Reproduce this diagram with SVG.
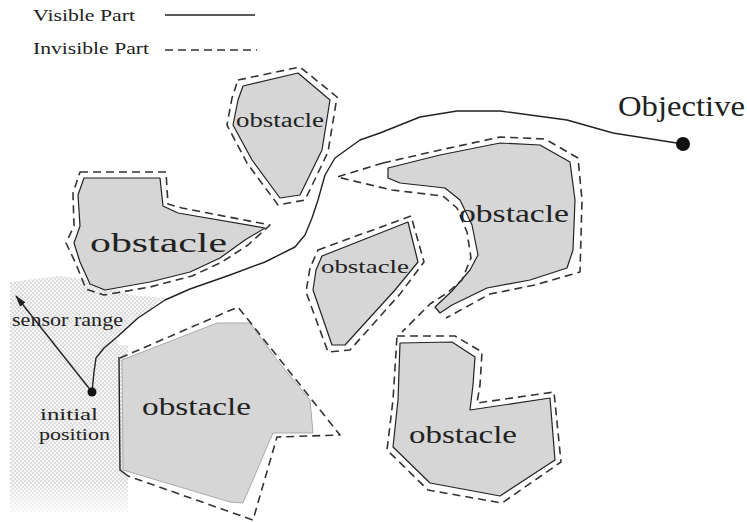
<svg xmlns="http://www.w3.org/2000/svg" width="747" height="522" viewBox="0 0 747 522">
<defs>
<pattern id="stip" width="4" height="4" patternUnits="userSpaceOnUse">
<rect width="4" height="4" fill="#f6f6f6"/>
<circle cx="1" cy="1" r="0.65" fill="#b0b0b0"/>
<circle cx="3" cy="3" r="0.65" fill="#b0b0b0"/>
</pattern>
<linearGradient id="fade" x1="0" y1="0" x2="0" y2="1">
<stop offset="0" stop-color="#fff" stop-opacity="0"/>
<stop offset="1" stop-color="#fff" stop-opacity="0.8"/>
</linearGradient>
<marker id="arr" markerWidth="12" markerHeight="10" refX="11" refY="5" orient="auto" markerUnits="userSpaceOnUse">
<path d="M0,1.5 L12,5 L0,8.5 Z" fill="#222"/>
</marker>
</defs>
<style>
.obs{fill:#d6d6d6;stroke:#222;stroke-width:1.2;stroke-linejoin:round}
.dash{fill:none;stroke:#333;stroke-width:1.6;stroke-dasharray:8 5;stroke-linejoin:round}
.sol{fill:none;stroke:#222;stroke-width:1.4;stroke-linejoin:round}
.lbl{font-family:"Liberation Serif","Times New Roman",serif;fill:#222}
</style>
<rect width="747" height="522" fill="#fff"/>
<g id="sensor-area">
<path d="M10,282 L60,276 L100,282 L130,295 L165,298 L138,318 L117,337 L118,345 L128,345 L128,512 L10,512 Z" fill="url(#stip)"/>
<rect x="10" y="480" width="118" height="34" fill="url(#fade)"/>
</g>
<g id="legend">
<text class="lbl" x="33" y="21" font-size="17" textLength="102" lengthAdjust="spacingAndGlyphs">Visible Part</text>
<text class="lbl" x="33" y="54" font-size="17" textLength="116" lengthAdjust="spacingAndGlyphs">Invisible Part</text>
<line x1="165" y1="15" x2="255" y2="15" class="sol"/>
<line x1="165" y1="50" x2="257" y2="50" class="dash" stroke-dasharray="7 6"/>
</g>
<g id="obstacle1">
<polygon class="obs" points="84,178 160,178 163,206 178,213 265,228 245,240 220,258 190,272 150,282 105,290 90,284 80,262 74,243 80,226 78,195"/>
<polygon class="dash" points="80,172 166,172 168,204 182,208 270,225 248,245 222,262 192,276 150,287 104,295 86,289 76,264 66,243 74,226 73,193"/>
<text class="lbl" x="90" y="252" font-size="28" textLength="137" lengthAdjust="spacingAndGlyphs">obstacle</text>
</g>
<g id="obstacle2">
<polygon class="obs" points="243,86 298,73 330,100 322,150 300,195 280,198 252,160 233,125 238,100"/>
<polygon class="dash" points="238,80 300,67 337,97 328,152 305,200 278,205 247,163 227,125 232,98"/>
<text class="lbl" x="236" y="127" font-size="20" textLength="88" lengthAdjust="spacingAndGlyphs">obstacle</text>
</g>
<g id="obstacle3">
<polygon class="obs" points="322,256 408,222 418,262 395,290 345,345 332,345 313,290 316,270"/>
<polygon class="dash" points="318,250 411,216 424,262 400,294 350,350 328,352 306,292 310,268"/>
<text class="lbl" x="321" y="273" font-size="19" textLength="88" lengthAdjust="spacingAndGlyphs">obstacle</text>
</g>
<g id="obstacle4">
<polygon class="obs" points="388,168 440,155 500,143 540,145 570,162 575,200 573,250 567,268 530,280 487,288 452,305 440,313 435,307 452,291 470,270 478,255 472,225 460,200 445,188 400,183 388,178"/>
<polyline class="dash" points="383,163 337,177 392,190 443,196 457,208 467,232 471,258 462,280 447,293 430,304 402,332"/>
<polyline class="dash" points="383,163 440,150 500,137 545,139 578,158 582,200 580,272 535,285 490,294 446,318"/>
<text class="lbl" x="459" y="222" font-size="26" textLength="110" lengthAdjust="spacingAndGlyphs">obstacle</text>
</g>
<g id="obstacle5">
<polygon points="122,360 217,323 250,323 277,360 310,400 313,433 273,433 267,447 243,503 230,502 123,470" fill="#d6d6d6" stroke="#aaa" stroke-width="1"/>
<polyline class="sol" points="119,357 120,470 128,476"/>
<polyline class="dash" points="120,358 238,307 340,435 277,437 253,520 128,476"/>
<text class="lbl" x="142" y="415" font-size="26" textLength="109" lengthAdjust="spacingAndGlyphs">obstacle</text>
</g>
<g id="obstacle6">
<polygon class="obs" points="400,343 452,342 475,357 473,385 470,410 550,398 555,460 500,496 430,483 393,447 398,400"/>
<polygon class="dash" points="397,336 455,336 482,352 480,385 477,403 554,392 561,462 502,503 428,490 387,450 393,400"/>
<text class="lbl" x="409" y="443" font-size="26" textLength="108" lengthAdjust="spacingAndGlyphs">obstacle</text>
</g>
<g id="connectors">
<path class="sol" d="M92,392 L94,372 L96,358 L104,348 L117,337 L138,318 L165,300 L190,289 L230,275 L265,262 L295,247 L305,235 L312,218 L318,200 L325,175 L335,158 L360,140 L380,133 L420,117 L457,111 L500,111 L567,120 L613,133 L683,144"/>
<line x1="92" y1="392" x2="16" y2="296" stroke="#222" stroke-width="1.4" marker-end="url(#arr)"/>
</g>
<g id="initial-position">
<circle cx="92" cy="392" r="4.5" fill="#111"/>
<text class="lbl" x="40" y="420" font-size="16" textLength="58" lengthAdjust="spacingAndGlyphs">initial</text>
<text class="lbl" x="39" y="440" font-size="16" textLength="71" lengthAdjust="spacingAndGlyphs">position</text>
</g>
<g id="sensor-label">
<text class="lbl" x="12" y="326" font-size="18" textLength="111" lengthAdjust="spacingAndGlyphs">sensor range</text>
</g>
<g id="objective">
<circle cx="683" cy="144" r="7" fill="#111"/>
<text class="lbl" x="618" y="116" font-size="30" textLength="127" lengthAdjust="spacingAndGlyphs">Objective</text>
</g>
</svg>
